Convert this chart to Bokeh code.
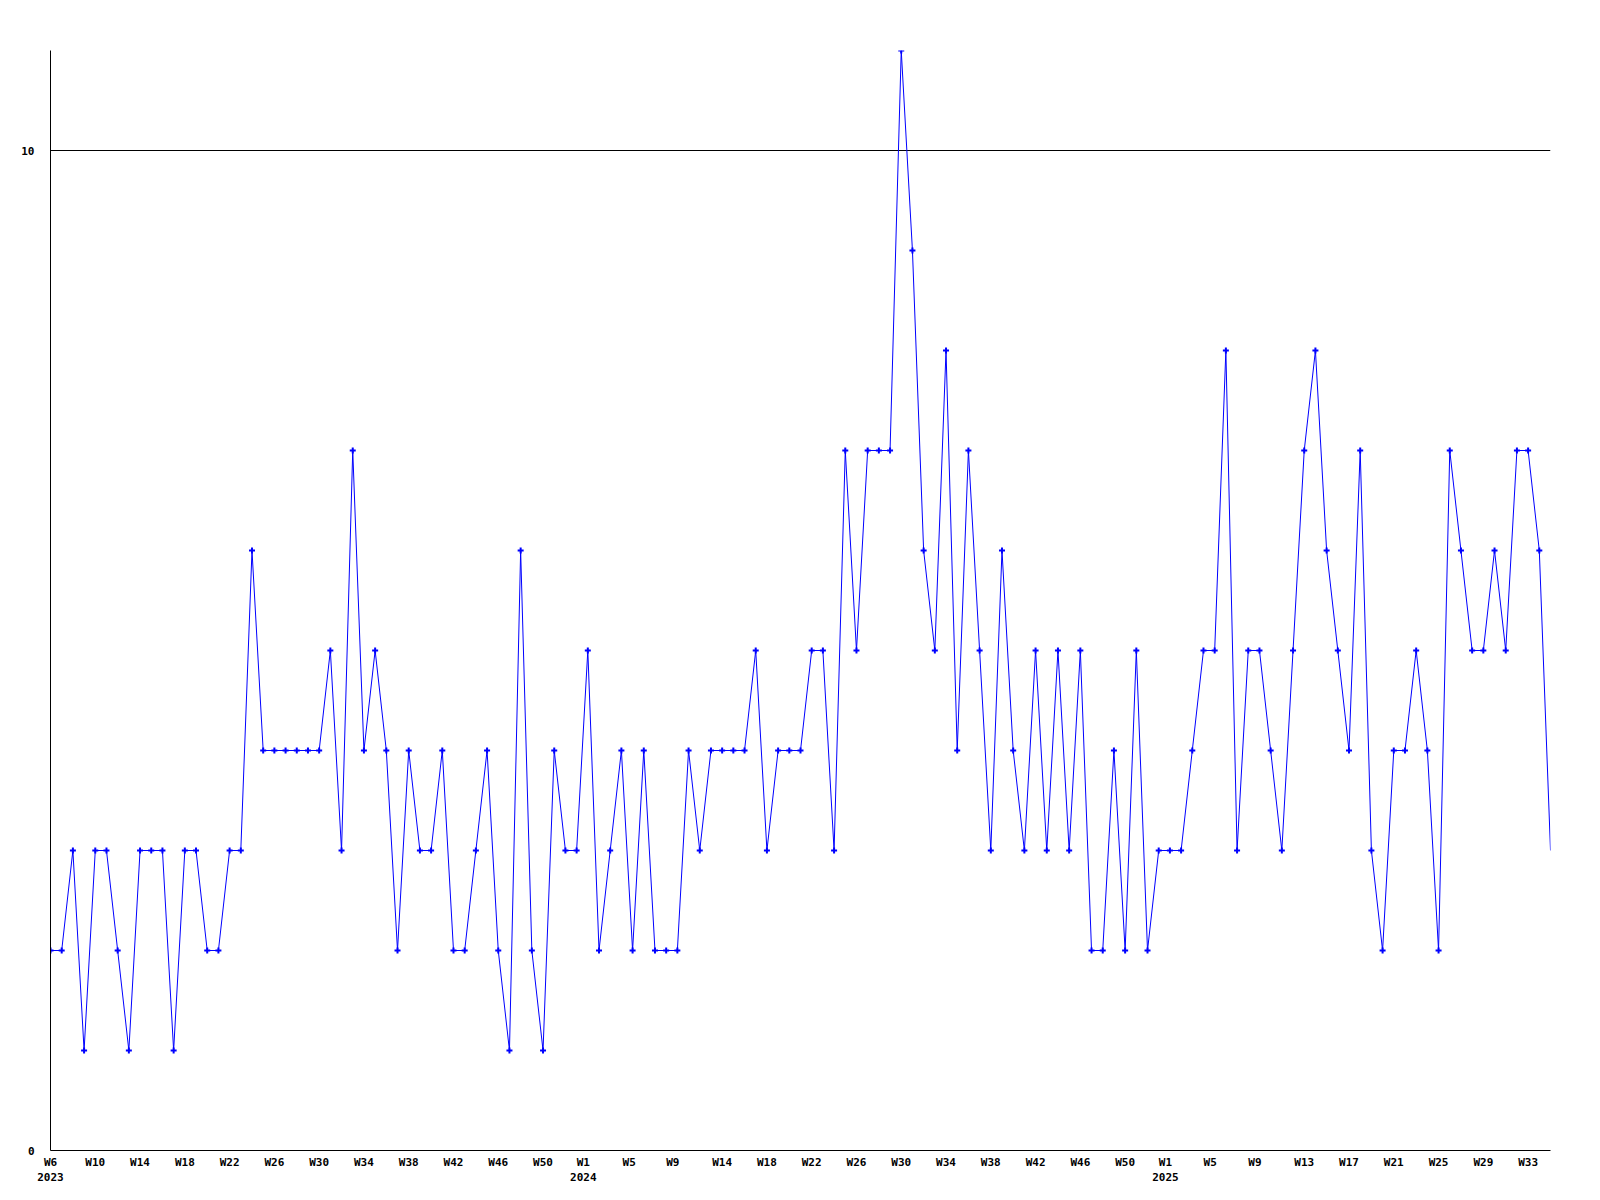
from bokeh.plotting import figure
from bokeh.models import FixedTicker, ColumnDataSource, Range1d
from bokeh.embed import file_html
from bokeh.resources import INLINE

# Weekly values
values_2023 = [2, 2, 3, 1, 3, 3, 2, 1, 3, 3, 3, 1, 3, 3, 2, 2, 3, 3,
               6, 4, 4, 4, 4, 4, 4, 5, 3, 7, 4, 5, 4, 2, 4, 3, 3,
               4, 2, 2, 3, 4, 2, 1, 6, 2, 1, 4, 3]
values_2024 = [3, 5, 2, 3, 4, 2, 4, 2, 2, 2, 4, 3, 4, 4, 4, 4, 5, 3, 4, 4, 4,
               5, 5, 3, 7, 5, 7, 7, 7, 11, 9, 6, 5, 8, 4, 7, 5, 3, 6, 4, 3,
               5, 3, 5, 3, 5, 2, 2, 4, 2, 5, 2]
values_2025 = [3, 3, 3, 4, 5, 5, 8, 3, 5, 5, 4, 3, 5, 7, 8, 6, 5, 4, 7, 3,
               2, 4, 4, 5, 4, 2, 7, 6, 5, 5, 6, 5, 7, 7, 6, 3]

# x-axis tick labels and their positions (in point-index units)
tick_positions = [0, 4, 8, 12, 16, 20, 24, 28, 32, 36, 40, 44,
                  47.6, 51.7, 55.6, 60, 64, 68, 72, 76, 80, 84, 88, 92, 96,
                  99.6, 103.6, 107.6, 112, 116, 120, 124, 128, 132]
tick_labels = ["W6\n2023", "W10", "W14", "W18", "W22", "W26", "W30", "W34", "W38", "W42", "W46", "W50",
               "W1\n2024", "W5", "W9", "W14", "W18", "W22", "W26", "W30", "W34", "W38", "W42", "W46", "W50",
               "W1\n2025", "W5", "W9", "W13", "W17", "W21", "W25", "W29", "W33"]
y_ticks = [0, 10]

values = values_2023 + values_2024 + values_2025
xs = list(range(len(values)))

src_line = ColumnDataSource(dict(x=xs, y=values))
src_pts = ColumnDataSource(dict(x=xs[:-1], y=values[:-1]))

p = figure(frame_width=1500, frame_height=1100, output_backend="svg", toolbar_location=None,
           x_range=Range1d(0, len(values) - 1), y_range=Range1d(0, 11))
p.min_border_left = 50
p.min_border_right = 34
p.min_border_top = 50
p.min_border_bottom = 34
p.outline_line_color = None
p.background_fill_color = "white"
p.border_fill_color = "white"

p.line("x", "y", source=src_line, line_color="#0000FF", line_width=1)
p.scatter("x", "y", source=src_pts, marker="cross", size=6, line_color="#0000FF", line_width=2)

xa = p.xaxis[0]
xa.ticker = FixedTicker(ticks=tick_positions)
xa.major_label_overrides = {float(t): l for t, l in zip(tick_positions, tick_labels)}
xa.major_tick_out = 0
xa.major_tick_in = 0
xa.minor_tick_out = 0
xa.minor_tick_in = 0
xa.major_label_standoff = 5
xa.axis_line_color = "black"

ya = p.yaxis[0]
ya.ticker = FixedTicker(ticks=y_ticks)
ya.major_tick_out = 0
ya.major_tick_in = 0
ya.minor_tick_out = 0
ya.minor_tick_in = 0
ya.major_label_standoff = 16
ya.axis_line_color = "black"

for ax in (xa, ya):
    ax.major_label_text_font = "DejaVu Sans Mono"
    ax.major_label_text_font_style = "bold"
    ax.major_label_text_font_size = "11px"
    ax.major_label_text_color = "black"
    ax.major_label_text_line_height = 1.17

p.xgrid.visible = False
p.ygrid.ticker = FixedTicker(ticks=[10])
p.ygrid.grid_line_color = "black"
p.ygrid.grid_line_alpha = 1.0
p.ygrid.grid_line_width = 1

open("out.html", "w").write(file_html(p, INLINE))
